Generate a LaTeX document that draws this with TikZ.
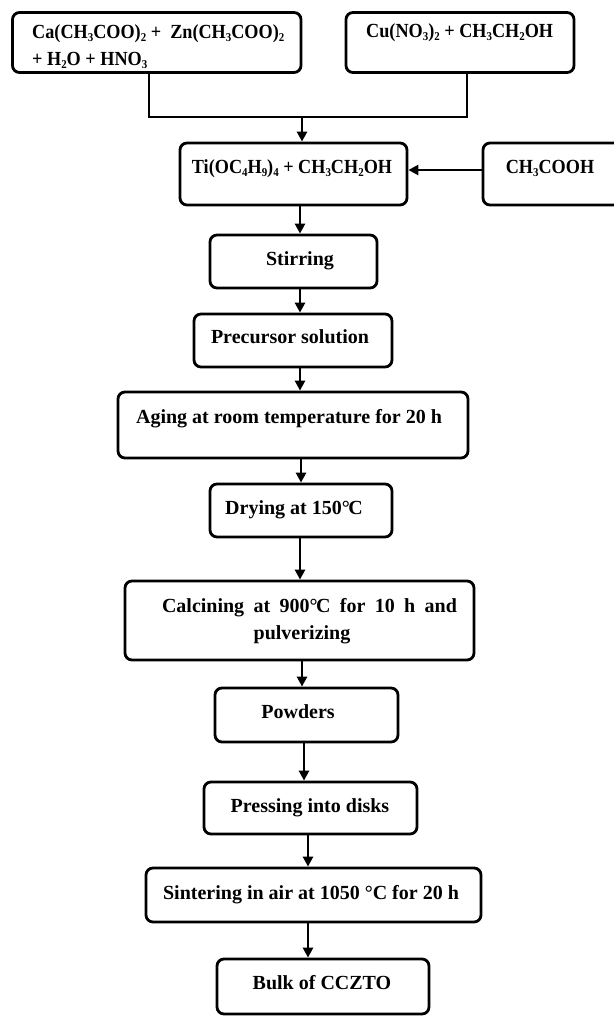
\documentclass[tikz,border=0pt]{standalone}
\usepackage{fontspec}
\usepackage{graphicx}
\setmainfont{Liberation Serif}
\usetikzlibrary{arrows.meta}
\newcommand{\chs}[1]{\raisebox{-2.6pt}{\fontsize{12}{12}\selectfont #1}}
\newcommand{\degc}{°\kern-1.5pt C}
\newcommand{\cnd}[1]{\scalebox{0.91}[1]{#1}}
\begin{document}
\begin{tikzpicture}[x=1pt,y=-1pt,
  box/.style={draw, line width=2.8pt, rounded corners=7pt, inner sep=0pt},
  txt/.style={font=\fontsize{20}{22}\selectfont\bfseries, inner sep=0pt, anchor=base},
  ln/.style={line width=2.5pt},
  arr/.style={line width=2.5pt, -{Triangle[length=10pt,width=10pt]}}]
\useasboundingbox (0,0) rectangle (613,1017);
% boxes
\node[box, minimum width=288.5pt, minimum height=60pt] (b1) at (156.75,42.5) {};
\node[box, minimum width=228pt, minimum height=60pt] (b2) at (460,42.5) {};
\node[box, minimum width=227pt, minimum height=62pt] (b3) at (293.5,174) {};
\node[box, minimum width=142pt, minimum height=62pt] (b4) at (554,174) {};
\node[box, minimum width=167pt, minimum height=53pt] (b5) at (293.5,261.5) {};
\node[box, minimum width=198pt, minimum height=53pt] (b6) at (293,340.5) {};
\node[box, minimum width=350pt, minimum height=66pt] (b7) at (293,425) {};
\node[box, minimum width=182pt, minimum height=53pt] (b8) at (301,510.5) {};
\node[box, minimum width=349pt, minimum height=79pt] (b9) at (299.5,620.5) {};
\node[box, minimum width=183pt, minimum height=54pt] (b10) at (306.5,715) {};
\node[box, minimum width=213pt, minimum height=52pt] (b11) at (310.5,808) {};
\node[box, minimum width=335pt, minimum height=54pt] (b12) at (313.5,895) {};
\node[box, minimum width=212pt, minimum height=55pt] (b13) at (323,986.5) {};
% texts
\node[txt, anchor=base west] (t1a) at (32,38.5) {\cnd{Ca(CH\chs{3}COO)\chs{2} +\ \ Zn(CH\chs{3}COO)\chs{2}}};
\node[txt, anchor=base west] (t1b) at (32,65.5) {\cnd{+ H\chs{2}O + HNO\chs{3}}};
\node[txt, anchor=base west] (t2) at (366,37.5) {\cnd{Cu(NO\chs{3})\chs{2} + CH\chs{3}CH\chs{2}OH}};
\node[txt] (t3) at (292,173.5) {\cnd{Ti(OC\chs{4}H\chs{9})\chs{4} + CH\chs{3}CH\chs{2}OH}};
\node[txt] (t4) at (550,173.5) {\cnd{CH\chs{3}COOH}};
\node[txt] (t5) at (300,265.5) {Stirring};
\node[txt] (t6) at (290,343.5) {Precursor solution};
\node[txt] (t7) at (289,423.5) {Aging at room temperature for 20 h};
\node[txt] (t8) at (294,514.5) {Drying at 150\degc};
\node[txt] (t9a) at (309.5,612.5) {\makebox[295pt][s]{Calcining at 900\degc{} for 10 h and}};
\node[txt] (t9b) at (302,639.5) {pulverizing};
\node[txt] (t10) at (298,718.5) {Powders};
\node[txt] (t11) at (310,812.5) {Pressing into disks};
\node[txt] (t12) at (311,899.5) {Sintering in air at 1050 °C for 20 h};
\node[txt] (t13) at (322,989.5) {Bulk of CCZTO};
% connectors
\coordinate (j) at (302,117);
\draw[ln] (b1.south -| 149,0) |- (j) -| (b2.south -| 467,0);
\draw[arr] (j) -- (b3.north -| j);
\draw[arr] (b4.west |- 0,170) -- (b3.east |- 0,170);
\draw[arr] (b3.south -| 300,0) -- (b5.north -| 300,0);
\draw[arr] (b5.south -| 300,0) -- (b6.north -| 300,0);
\draw[arr] (b6.south -| 300,0) -- (b7.north -| 300,0);
\draw[arr] (b7.south -| 301,0) -- (b8.north -| 301,0);
\draw[arr] (b8.south -| 300,0) -- (b9.north -| 300,0);
\draw[arr] (b9.south -| 302,0) -- (b10.north -| 302,0);
\draw[arr] (b10.south -| 304,0) -- (b11.north -| 304,0);
\draw[arr] (b11.south -| 308,0) -- (b12.north -| 308,0);
\draw[arr] (b12.south -| 308,0) -- (b13.north -| 308,0);
\end{tikzpicture}
\end{document}
